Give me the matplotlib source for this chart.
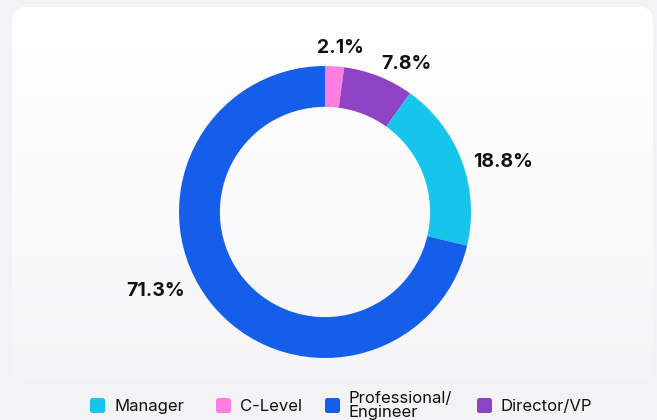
import matplotlib.pyplot as plt
from matplotlib.patches import FancyBboxPatch
import numpy as np

plt.rcParams['font.family'] = ['Inter', 'DejaVu Sans']

# data, clockwise from the top
labels = ['C-Level', 'Director/VP', 'Manager', 'Professional/\nEngineer']
shares = [2.1, 7.8, 18.8, 71.3]
colors = ['#ff7fe1', '#8e43c4', '#16c5ec', '#145ee9']

legend_order = ['Manager', 'C-Level', 'Professional/\nEngineer', 'Director/VP']

# where the value labels sit (polar: radius, angle in degrees)
label_pos = [(1.13, 84.8), (1.16, 61.2), (1.27, 15.8), (1.28, 205.0)]

W, H = 657, 420
fig = plt.figure(figsize=(W / 100, H / 100), dpi=100)
fig.patch.set_facecolor('#f3f3f5')

# card background with a soft fade to grey at the bottom
bg = fig.add_axes([0, 0, 1, 1])
bg.set_xlim(0, W)
bg.set_ylim(H, 0)
bg.axis('off')
grad = np.linspace(0, 1, 256).reshape(-1, 1)
card = FancyBboxPatch((12, 7), 641, 372, boxstyle='round,pad=0,rounding_size=14',
                      facecolor='none', edgecolor='none')
bg.add_patch(card)
img = bg.imshow(grad, extent=[12, 653, 379, 7], aspect='auto',
                cmap=plt.matplotlib.colors.LinearSegmentedColormap.from_list(
                    'card', ['#ffffff', '#fbfbfc', '#f5f5f7']), zorder=0)
img.set_clip_path(card)

# donut
R = 146
cx, cy = 325, 212
L = 1.4
half = L * R
ax = fig.add_axes([(cx - half) / W, (H - cy - half) / H, 2 * half / W, 2 * half / H])

ax.pie(shares, colors=colors, startangle=90, counterclock=False, radius=1.0,
       wedgeprops=dict(width=0.28, edgecolor='none', antialiased=True))
ax.set_xlim(-L, L)
ax.set_ylim(-L, L)
ax.axis('off')

for s, (r, a) in zip(shares, label_pos):
    t = np.deg2rad(a)
    ax.text(r * np.cos(t), r * np.sin(t), f'{s}%', ha='center', va='center',
            fontsize=14, fontweight='bold', color='#111111', clip_on=False)

# legend
legend_x = [90, 216, 325, 477]
for name, x in zip(legend_order, legend_x):
    c = colors[labels.index(name)]
    sq = FancyBboxPatch((x, 398), 15, 15, boxstyle='round,pad=0,rounding_size=2.5',
                        facecolor=c, edgecolor='none')
    bg.add_patch(sq)
    if '\n' in name:
        bg.text(x + 24, 405.5, name, ha='left', va='center', fontsize=12,
                color='#111111', linespacing=0.85)
    else:
        bg.text(x + 24, 406.5, name, ha='left', va='center', fontsize=12,
                color='#111111')

fig.savefig('out.png', dpi=100, facecolor=fig.get_facecolor())
